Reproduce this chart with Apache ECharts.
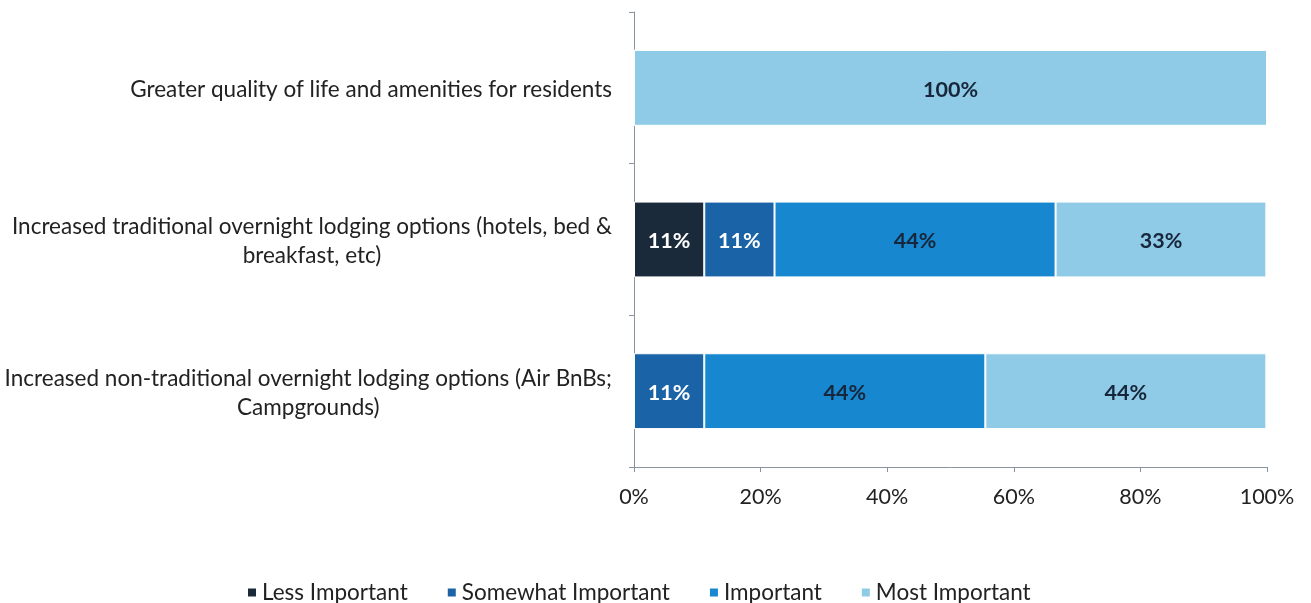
<!DOCTYPE html>
<html>
<head>
<meta charset="utf-8">
<script src="https://cdn.jsdelivr.net/npm/echarts@6/dist/echarts.min.js"></script>
<style>
  html, body { margin: 0; padding: 0; background: #ffffff; }
  #chart { width: 1311px; height: 603px; }
</style>
</head>
<body>
<div id="chart"></div>
<script>
// Survey items (top to bottom); "\n" marks where each label wraps
const categories = [
  'Greater quality of life and amenities for residents',
  'Increased traditional overnight lodging options (hotels, bed &\nbreakfast, etc)',
  'Increased non-traditional overnight lodging options (Air BnBs;\nCampgrounds)'
];

// Share of responses (%) per importance level, one value per item
const lessImportant     = [0, 11.1, 0];
const somewhatImportant = [0, 11.1, 11.1];
const important         = [0, 44.4, 44.4];
const mostImportant     = [100, 33.3, 44.4];

const xTicks = [0, 20, 40, 60, 80, 100];

const seriesDefs = [
  { name: 'Less Important',     data: lessImportant,     color: '#1b2a3b', text: '#ffffff' },
  { name: 'Somewhat Important', data: somewhatImportant, color: '#1a63a6', text: '#ffffff' },
  { name: 'Important',          data: important,         color: '#1787cf', text: '#17263a' },
  { name: 'Most Important',     data: mostImportant,     color: '#8fcbe7', text: '#17263a' }
];

const FONT = 'Lato, "Open Sans", sans-serif';

const chart = echarts.init(document.getElementById('chart'), null, { renderer: 'canvas' });

chart.setOption({
  backgroundColor: '#ffffff',
  animation: false,
  grid: { left: 634, right: 44, top: 12, bottom: 136 },
  legend: {
    left: 241,
    top: 576,
    icon: 'rect',
    itemWidth: 10,
    itemHeight: 10,
    itemGap: 38,
    textStyle: { fontFamily: FONT, fontSize: 22.5, color: '#222222' },
    data: seriesDefs.map(s => s.name)
  },
  xAxis: {
    type: 'value',
    min: xTicks[0],
    max: xTicks[xTicks.length - 1],
    interval: 20,
    axisLine: { show: true, lineStyle: { color: '#8a93a0', width: 1 } },
    axisTick: { show: true, length: 5, lineStyle: { color: '#8a93a0' } },
    splitLine: { show: false },
    axisLabel: {
      margin: 19,
      fontFamily: FONT,
      fontSize: 21.5,
      color: '#222222',
      formatter: v => v + '%'
    }
  },
  yAxis: {
    type: 'category',
    inverse: true,
    data: categories,
    axisLine: { show: true, lineStyle: { color: '#8a93a0', width: 1 } },
    axisTick: { show: true, length: 5, lineStyle: { color: '#8a93a0' } },
    axisLabel: {
      margin: 22,
      fontFamily: FONT,
      fontSize: 22.5,
      color: '#222222',
      lineHeight: 29,
      padding: [4, 0, 0, 0],
      formatter: v => v.split('\n').map(line => '{c|' + line + '}').join('\n'),
      rich: {
        c: { align: 'center', fontFamily: FONT, fontSize: 22.5, color: '#222222', lineHeight: 29 }
      }
    }
  },
  series: seriesDefs.map(s => ({
    name: s.name,
    type: 'bar',
    stack: 'total',
    barWidth: '50%',
    data: s.data,
    itemStyle: { color: s.color, borderColor: '#ffffff', borderWidth: 1 },
    label: {
      show: true,
      position: 'inside',
      offset: [0, 2],
      fontFamily: FONT,
      fontSize: 21.5,
      fontWeight: 'bold',
      color: s.text,
      formatter: p => (p.value > 0 ? Math.round(p.value) + '%' : '')
    }
  }))
});
</script>
</body>
</html>
